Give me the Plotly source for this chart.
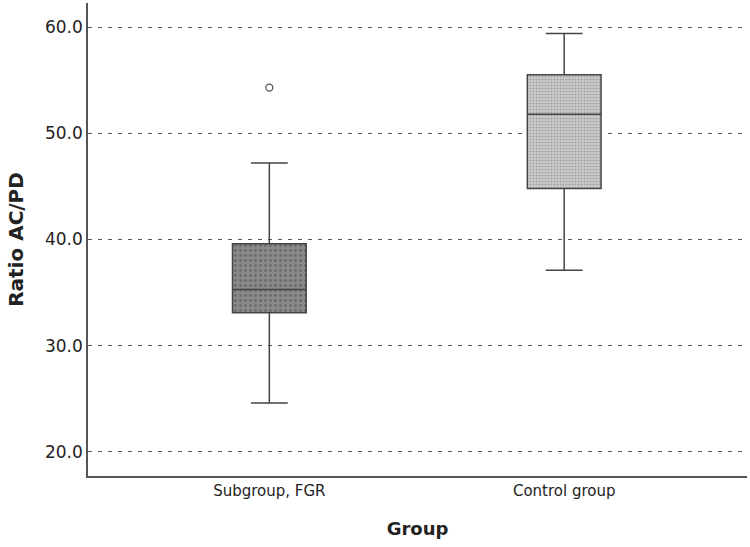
import plotly.graph_objects as go

categories = ["Subgroup, FGR", "Control group"]
lower_whisker = [24.6, 37.1]
q1 = [33.1, 44.8]
median = [35.3, 51.8]
q3 = [39.6, 55.5]
upper_whisker = [47.2, 59.4]
outlier_cat = ["Subgroup, FGR"]
outlier_val = [54.3]
fill_colors = ["#8a8a8a", "#c9c9c9"]
dot_colors = ["#4a4a4a", "#6a6a6a"]
tick_vals = [20, 30, 40, 50, 60]
tick_text = ["20.0", "30.0", "40.0", "50.0", "60.0"]

fig = go.Figure()

# patterned box fill
for i, c in enumerate(categories):
    fig.add_trace(go.Bar(
        x=[c], y=[q3[i] - q1[i]], base=[q1[i]], width=0.25,
        marker=dict(color=fill_colors[i], line=dict(width=0),
                    pattern=dict(shape=".", fgcolor=dot_colors[i], bgcolor=fill_colors[i],
                                 size=5 if i == 0 else 3, solidity=0.25)),
        showlegend=False, hoverinfo="skip"))

for i, c in enumerate(categories):
    fig.add_trace(go.Box(
        x=[c], q1=[q1[i]], median=[median[i]], q3=[q3[i]],
        lowerfence=[lower_whisker[i]], upperfence=[upper_whisker[i]],
        fillcolor="rgba(0,0,0,0)", line=dict(color="#444444", width=1.5),
        whiskerwidth=0.5, width=0.25, boxpoints=False, showlegend=False))

fig.add_trace(go.Scatter(
    x=outlier_cat, y=outlier_val, mode="markers",
    marker=dict(symbol="circle-open", size=7, color="#555555", line=dict(width=1.3)),
    showlegend=False))

fig.update_layout(
    width=750, height=547,
    margin=dict(l=88, r=3, t=3, b=71),
    plot_bgcolor="white", paper_bgcolor="white",
    barmode="overlay",
    font=dict(family="DejaVu Sans", color="#222222"),
    xaxis=dict(type="category", range=[-0.615, 1.62], showgrid=False,
               showline=True, linecolor="#555555", linewidth=1.5,
               ticks="", tickfont=dict(size=15),
               title=dict(text="<b>Group</b>", font=dict(size=18), standoff=24)),
    yaxis=dict(range=[17.74, 62.26], tickvals=tick_vals, ticktext=tick_text,
               showgrid=True, gridcolor="#555555", griddash="4px,6px", gridwidth=1.3,
               showline=True, linecolor="#555555", linewidth=1.5, zeroline=False,
               ticks="", tickfont=dict(size=17),
               title=dict(text="<b>Ratio AC/PD</b>", font=dict(size=20), standoff=16)),
)

fig.write_html("out.html")
